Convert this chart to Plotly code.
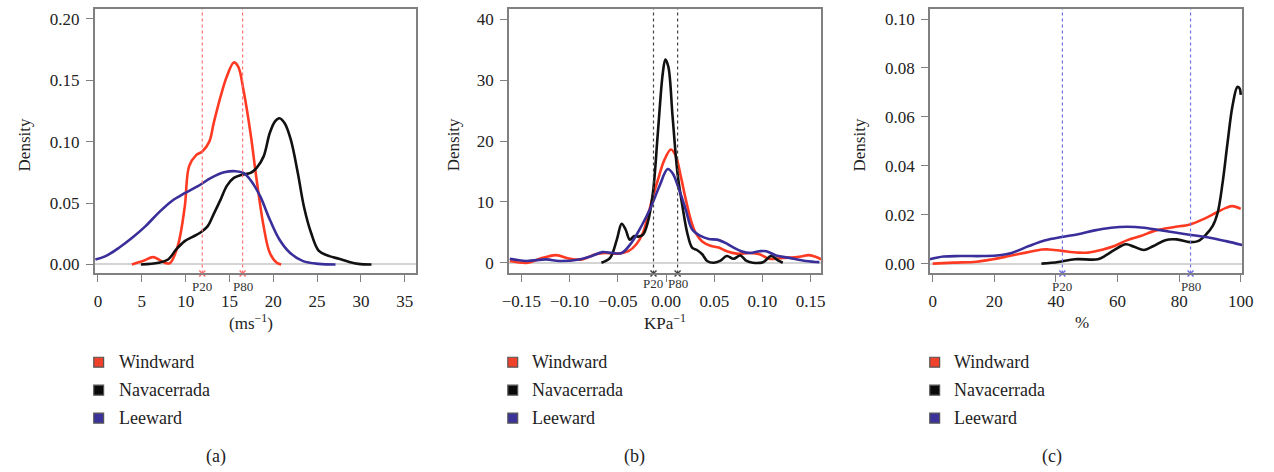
import plotly.graph_objects as go

# ---------------- data ----------------
# Panel (a): wind speed (ms^-1)
a_wind_x = [3.86, 5.2, 6.3, 7.6, 8.2, 9.1, 9.9, 10.4, 11.2, 11.9, 12.7, 13.2, 14.0, 14.7, 15.5, 16.0, 16.6, 17.4, 18.1, 18.9, 19.6, 20.4, 20.9]
a_wind_y = [0.0, 0.003, 0.006, 0.0014, 0.001, 0.015, 0.047, 0.08, 0.089, 0.092, 0.10, 0.115, 0.137, 0.153, 0.1645, 0.161, 0.142, 0.107, 0.069, 0.031, 0.0095, 0.0014, 0.0]
a_nav_x = [4.9, 6.9, 8.0, 8.9, 9.9, 10.8, 11.7, 12.5, 13.2, 14.0, 14.7, 15.5, 16.4, 17.4, 18.1, 18.9, 19.6, 20.2, 20.7, 21.3, 22.0, 22.8, 23.5, 24.3, 25.2, 26.4, 27.5, 28.6, 29.7, 31.2]
a_nav_y = [0.0, 0.0014, 0.004, 0.012, 0.019, 0.0225, 0.026, 0.031, 0.041, 0.053, 0.064, 0.0705, 0.073, 0.0745, 0.0786, 0.088, 0.107, 0.1165, 0.119, 0.115, 0.1016, 0.0745, 0.047, 0.026, 0.011, 0.0068, 0.0046, 0.0022, 0.0005, 0.0]
a_lee_x = [-0.3, 0.86, 2.4, 3.9, 5.4, 6.9, 8.4, 9.9, 11.4, 12.9, 14.4, 15.7, 16.6, 17.5, 18.5, 19.6, 20.7, 21.9, 23.4, 25.2, 27.1]
a_lee_y = [0.004, 0.0068, 0.0136, 0.0217, 0.031, 0.042, 0.0515, 0.058, 0.0637, 0.0705, 0.075, 0.0759, 0.0745, 0.0678, 0.0556, 0.0366, 0.0203, 0.0095, 0.0027, 0.0005, 0.0]
a_pct = [11.9, 16.5]

# Panel (b): KPa^-1
b_wind_x = [-0.162, -0.143, -0.131, -0.114, -0.1006, -0.087, -0.073, -0.063, -0.049, -0.039, -0.031, -0.024, -0.019, -0.0136, -0.0085, -0.0017, 0.0051, 0.0102, 0.0153, 0.0205, 0.0256, 0.0307, 0.0375, 0.046, 0.0546, 0.063, 0.0733, 0.087, 0.097, 0.107, 0.121, 0.138, 0.148, 0.155, 0.161]
b_wind_y = [0.3, 0.0, 0.65, 1.25, 0.7, 0.55, 1.4, 1.6, 1.5, 1.9, 3.0, 4.9, 7.6, 10.9, 13.6, 16.9, 18.6, 17.5, 14.2, 10.4, 7.1, 4.9, 3.5, 2.8, 2.5, 1.9, 1.5, 1.6, 1.4, 0.65, 0.8, 1.0, 1.25, 1.0, 0.55]
b_nav_x = [-0.067, -0.058, -0.051, -0.046, -0.042, -0.0375, -0.033, -0.029, -0.024, -0.019, -0.0136, -0.0085, -0.0034, -0.0007, 0.0024, 0.0068, 0.0119, 0.017, 0.022, 0.027, 0.032, 0.0375, 0.0426, 0.049, 0.056, 0.063, 0.070, 0.077, 0.0835, 0.090, 0.1006, 0.109, 0.116, 0.121]
b_nav_y = [0.0, 0.8, 3.8, 6.4, 5.5, 3.8, 4.4, 4.3, 4.6, 6.6, 11.5, 21.3, 31.1, 33.4, 32.2, 24.0, 14.7, 9.3, 4.9, 2.5, 2.1, 1.4, 0.3, 0.0, 0.3, 1.1, 0.65, 1.2, 0.3, 0.0, 0.1, 1.1, 0.4, 0.0]
b_lee_x = [-0.162, -0.145, -0.124, -0.111, -0.09, -0.077, -0.066, -0.056, -0.046, -0.0358, -0.0256, -0.0153, -0.0068, 0.0017, 0.0068, 0.0136, 0.0205, 0.027, 0.0358, 0.0443, 0.053, 0.061, 0.070, 0.078, 0.087, 0.097, 0.104, 0.114, 0.128, 0.145, 0.159]
b_lee_y = [0.65, 0.3, 0.55, 0.3, 0.55, 1.1, 1.75, 1.6, 1.6, 3.3, 6.0, 9.3, 12.6, 15.4, 14.7, 12.0, 8.7, 5.5, 4.4, 3.9, 3.8, 3.3, 2.5, 1.9, 1.6, 1.9, 1.9, 1.2, 0.8, 0.3, 0.1]
b_pct = [-0.013, 0.012]

# Panel (c): relative humidity (%)
c_wind_x = [0, 6.7, 14.2, 19.5, 24.8, 30.2, 35.5, 37.6, 41.9, 47.2, 50.4, 54.7, 59, 63.2, 67.5, 72.8, 78.1, 83.5, 87.7, 92, 95.2, 97.3, 100]
c_wind_y = [0.0, 0.0004, 0.0008, 0.0018, 0.0031, 0.0045, 0.0058, 0.0058, 0.0052, 0.0045, 0.0045, 0.0056, 0.0072, 0.0096, 0.0113, 0.0137, 0.0149, 0.016, 0.0181, 0.0208, 0.0228, 0.0235, 0.0224]
c_nav_x = [35.3, 40.8, 46.2, 53.6, 55.8, 59, 62.7, 65.4, 68.6, 71.7, 75.5, 79.2, 83.5, 86.1, 88.8, 90.9, 92.5, 94.1, 95.7, 97.3, 98.9, 99.6, 100]
c_nav_y = [0.0, 0.0007, 0.0018, 0.0018, 0.0031, 0.0056, 0.0079, 0.0069, 0.0056, 0.0072, 0.0096, 0.0099, 0.0088, 0.0092, 0.012, 0.0154, 0.0208, 0.033, 0.0493, 0.0643, 0.0722, 0.0717, 0.069]
c_lee_x = [-1, 3.5, 8.8, 16.3, 21.6, 25.9, 31.2, 36.6, 41.9, 47.2, 52.6, 57.9, 63.2, 68.6, 73.9, 79.2, 84.5, 89.9, 95.2, 100.5]
c_lee_y = [0.0018, 0.0029, 0.0031, 0.0031, 0.0034, 0.0045, 0.0072, 0.0096, 0.0109, 0.012, 0.0136, 0.0147, 0.0151, 0.0147, 0.0137, 0.0126, 0.0116, 0.0106, 0.0092, 0.0076]
c_pct = [42.1, 83.7]

series_names = ["Windward", "Navacerrada", "Leeward"]
pct_labels = ["P20", "P80"]
panel_labels = ["(a)", "(b)", "(c)"]
x_titles = ["(ms<sup>−1</sup>)", "KPa<sup>−1</sup>", "%"]

a_xticks = [0, 5, 10, 15, 20, 25, 30, 35]
a_yticks = [0.0, 0.05, 0.10, 0.15, 0.20]
b_xticks = [-0.15, -0.10, -0.05, 0.0, 0.05, 0.10, 0.15]
b_yticks = [0, 10, 20, 30, 40]
c_xticks = [0, 20, 40, 60, 80, 100]
c_yticks = [0.0, 0.02, 0.04, 0.06, 0.08, 0.10]

# ---------------- style ----------------
W, H = 1274, 472
FONT = "Liberation Serif"
line_colors = ["#ff3a22", "#111111", "#3a2f9a"]
legend_fill = ["#f0412a", "#0a0a0a", "#3b3399"]
pct_colors = ["#ff7070", "#444444", "#6f6fe0"]

panels = [
    dict(xs=[a_wind_x, a_nav_x, a_lee_x], ys=[a_wind_y, a_nav_y, a_lee_y], pct=a_pct,
         xr=[-0.37, 36.3], yr=[-0.0073, 0.208], xt=a_xticks, yt=a_yticks,
         xfmt=lambda v: f"{v:g}", yfmt=lambda v: f"{v:.2f}",
         px=(89, 415), lab_y=287),
    dict(xs=[b_wind_x, b_nav_x, b_lee_x], ys=[b_wind_y, b_nav_y, b_lee_y], pct=b_pct,
         xr=[-0.163, 0.161], yr=[-1.75, 41.7], xt=b_xticks, yt=b_yticks,
         xfmt=lambda v: f"{v:.2f}".replace("-", "−"), yfmt=lambda v: f"{v:g}",
         px=(509, 826), lab_y=284),
    dict(xs=[c_wind_x, c_nav_x, c_lee_x], ys=[c_wind_y, c_nav_y, c_lee_y], pct=c_pct,
         xr=[-0.96, 100.5], yr=[-0.004, 0.1041], xt=c_xticks, yt=c_yticks,
         xfmt=lambda v: f"{v:g}", yfmt=lambda v: f"{v:.2f}",
         px=(936, 1253), lab_y=287),
]

legend_sq_x = [88, 508, 936]
legend_txt_x = [112, 531, 959]
legend_rows = [363, 391, 419]
panel_lab_x = [212, 636, 1060]
ytitle_x = [18, 453, 865]
xtitle_x = [248, 667, 1090]
plot_top, plot_bot = 9, 274

def px2x(p):
    return p / W

def px2y(p):
    return 1 - p / H

fig = go.Figure()
shapes = []
annotations = []

for i, P in enumerate(panels):
    sfx = "" if i == 0 else str(i + 1)
    xa, ya = "x" + sfx, "y" + sfx
    for k in range(3):
        fig.add_trace(go.Scatter(
            x=P["xs"][k], y=P["ys"][k], mode="lines", name=series_names[k],
            line=dict(color=line_colors[k], width=2.6, shape="spline", smoothing=1.0),
            xaxis=xa, yaxis=ya, showlegend=False, cliponaxis=True))
    # percentile lines
    for j, pv in enumerate(P["pct"]):
        shapes.append(dict(type="line", xref=xa, yref=ya + " domain", x0=pv, x1=pv, y0=0, y1=1,
                           line=dict(color=pct_colors[i], width=1.2, dash="dot")))
        annotations.append(dict(xref=xa, yref="paper", x=pv, y=px2y(P["lab_y"]),
                                text=pct_labels[j], showarrow=False, xanchor="center", yanchor="middle",
                                font=dict(family=FONT, size=13, color="#333")))
    fig.add_trace(go.Scatter(
        x=P["pct"], y=[P["yr"][0]] * len(P["pct"]), mode="markers",
        marker=dict(symbol="x-thin", size=6, line=dict(color=pct_colors[i], width=1.5)),
        xaxis=xa, yaxis=ya, showlegend=False, cliponaxis=False))

    dom_x = [px2x(P["px"][0]), px2x(P["px"][1])]
    dom_y = [px2y(plot_bot), px2y(plot_top)]
    common = dict(showline=True, mirror=True, linecolor="#808080", linewidth=1.5,
                  ticks="outside", ticklen=7, tickwidth=1.3, tickcolor="#808080",
                  showgrid=False, tickfont=dict(family=FONT, size=17, color="#222"))
    fig.update_layout(**{
        ("xaxis" + sfx): dict(domain=dom_x, range=P["xr"], anchor=ya, zeroline=False,
                              tickvals=P["xt"], ticktext=[P["xfmt"](v) for v in P["xt"]],
                              ticklabelstandoff=4, **common),
        ("yaxis" + sfx): dict(domain=dom_y, range=P["yr"], anchor=xa, zeroline=True,
                              zerolinecolor="#d4d4d4", zerolinewidth=1.5,
                              tickvals=P["yt"], ticktext=[P["yfmt"](v) for v in P["yt"]],
                              ticklabelstandoff=3, **common),
    })

    # axis titles
    annotations.append(dict(xref="paper", yref="paper", x=px2x(ytitle_x[i]), y=px2y(145),
                            text="Density", textangle=-90, showarrow=False,
                            xanchor="center", yanchor="middle",
                            font=dict(family=FONT, size=17, color="#222")))
    annotations.append(dict(xref="paper", yref="paper", x=px2x(xtitle_x[i]), y=px2y(323),
                            text=x_titles[i], showarrow=False,
                            xanchor="center", yanchor="middle",
                            font=dict(family=FONT, size=17, color="#222")))
    # legend
    for k in range(3):
        cy = legend_rows[k]
        shapes.append(dict(type="rect", xref="paper", yref="paper",
                           x0=px2x(legend_sq_x[i]), x1=px2x(legend_sq_x[i] + 10),
                           y0=px2y(cy + 5), y1=px2y(cy - 5),
                           fillcolor=legend_fill[k], line=dict(color="#555", width=1.2)))
        annotations.append(dict(xref="paper", yref="paper", x=px2x(legend_txt_x[i]), y=px2y(cy),
                                text=series_names[k], showarrow=False,
                                xanchor="left", yanchor="middle",
                                font=dict(family=FONT, size=18, color="#222")))
    annotations.append(dict(xref="paper", yref="paper", x=px2x(panel_lab_x[i]), y=px2y(457),
                            text=panel_labels[i], showarrow=False,
                            xanchor="center", yanchor="middle",
                            font=dict(family=FONT, size=18, color="#222")))

fig.update_layout(width=W, height=H, margin=dict(l=0, r=0, t=0, b=0),
                  paper_bgcolor="white", plot_bgcolor="white",
                  shapes=shapes, annotations=annotations, showlegend=False)

fig.write_html("out.html")
